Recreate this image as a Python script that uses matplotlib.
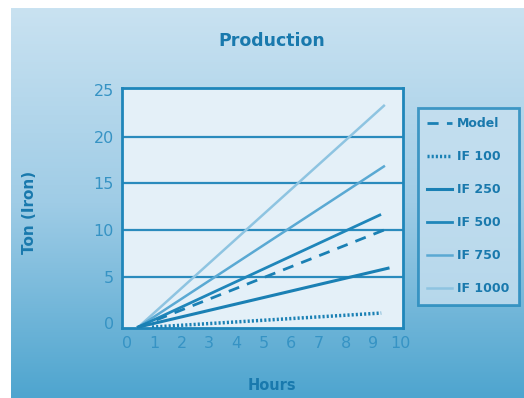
import numpy as np
import matplotlib.pyplot as plt
from matplotlib.colors import LinearSegmentedColormap

# data (hours, tons)
series_names = ["Model", "IF 100", "IF 250", "IF 500", "IF 750", "IF 1000"]
model_x = [0.4, 9.5]
model_y = [-0.4, 10.1]
if100_x = [0.9, 9.3]
if100_y = [-0.4, 1.1]
if250_x = [0.4, 9.55]
if250_y = [-0.4, 5.9]
if500_x = [0.4, 9.25]
if500_y = [-0.4, 11.6]
if750_x = [0.4, 9.4]
if750_y = [-0.4, 16.8]
if1000_x = [0.4, 9.4]
if1000_y = [-0.4, 23.3]
x_ticks = [0, 1, 2, 3, 4, 5, 6, 7, 8, 9, 10]
y_ticks = [0, 5, 10, 15, 20, 25]
grid_levels = [5, 10, 15, 20]

dark = '#1a80b4'
text_dark = '#1979ad'
tick_col = '#3693c4'

fig = plt.figure(figsize=(5.24, 3.98), dpi=100)
fig.patch.set_facecolor('white')

# gradient background (scan leaves white strip at top and left)
bg = fig.add_axes([11/524, 0, 1 - 11/524, 390/398])
bg.set_axis_off()
cmap = LinearSegmentedColormap.from_list('bgblue', ['#c9e2f1', '#9fcce6', '#4ea5cf'])
grad = np.linspace(0, 1, 256).reshape(-1, 1)
bg.imshow(grad, aspect='auto', cmap=cmap, extent=[0, 1, 0, 1], origin='upper')
bg.set_xlim(0, 1)
bg.set_ylim(0, 1)

ax = fig.add_axes([122/524, 70/398, 281/524, 240/398])
ax.set_facecolor('#e4f0f8')

for lv in grid_levels:
    ax.axhline(lv, color='#2a8bbd', lw=1.6, zorder=1)

ax.plot(if1000_x, if1000_y, color='#8ec4e1', lw=1.8, label='IF 1000', zorder=3)
ax.plot(if750_x, if750_y, color='#5aa9d3', lw=1.8, label='IF 750', zorder=3)
ax.plot(if500_x, if500_y, color='#1f86ba', lw=2.0, label='IF 500', zorder=3)
ax.plot(model_x, model_y, color=dark, lw=2.0, ls=(0, (4, 3)), label='Model', zorder=4)
ax.plot(if250_x, if250_y, color=dark, lw=2.2, label='IF 250', zorder=3)
ax.plot(if100_x, if100_y, color=dark, lw=2.5, ls=(0, (0.6, 0.6)), label='IF 100', zorder=3)

ax.set_xlim(-0.2, 10.1)
ax.set_ylim(-0.5, 25.2)
ax.set_xticks(x_ticks)
ax.set_yticks(y_ticks)
ax.tick_params(length=0, labelsize=11.5, labelcolor=tick_col, pad=6)
for s in ax.spines.values():
    s.set_color('#1f86ba')
    s.set_linewidth(2)

fig.text(272/524, 1 - 41/398, 'Production', ha='center', va='center',
         fontsize=12.5, fontweight='bold', color=text_dark)
fig.text(30/524, 1 - 212/398, 'Ton (Iron)', ha='center', va='center', rotation=90,
         fontsize=11, fontweight='bold', color=text_dark)
fig.text(272/524, 1 - 385/398, 'Hours', ha='center', va='center',
         fontsize=10.5, fontweight='bold', color=text_dark)

handles, labels = ax.get_legend_handles_labels()
order = [labels.index(n) for n in series_names]
leg = fig.legend([handles[i] for i in order], [labels[i] for i in order],
                 loc='upper left', bbox_to_anchor=(418/524, 1 - 108/398),
                 frameon=True, fontsize=9, handlelength=2.0, labelspacing=1.6,
                 borderpad=0.75, handletextpad=0.4, borderaxespad=0)
frame = leg.get_frame()
frame.set_facecolor((0.78, 0.88, 0.94, 0.45))
frame.set_edgecolor('#1f86ba')
frame.set_linewidth(2)
frame.set_boxstyle('square', pad=0)
for t in leg.get_texts():
    t.set_color(text_dark)
    t.set_fontweight('bold')

fig.savefig('out.png', dpi=100)
